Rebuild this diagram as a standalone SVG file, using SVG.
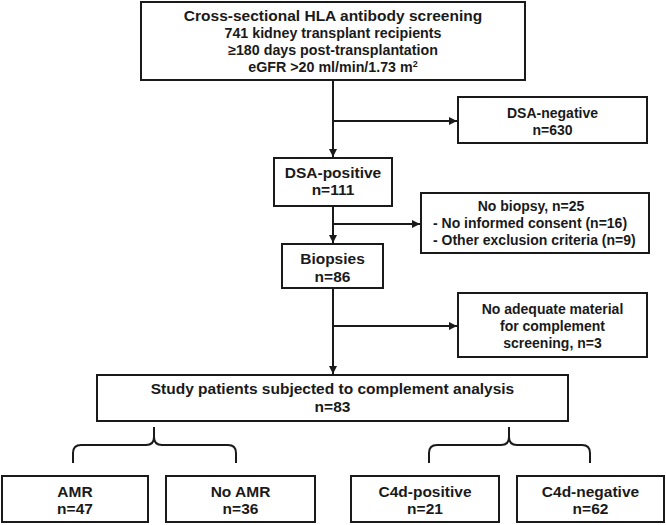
<svg xmlns="http://www.w3.org/2000/svg" width="666" height="525" viewBox="0 0 666 525">
<defs>
<style>
.box{fill:#fff;stroke:#1a1a1a;stroke-width:2}
.ln{fill:none;stroke:#1a1a1a;stroke-width:2}
text{font-family:"Liberation Sans",Arial,sans-serif;font-weight:bold;font-size:15.5px;fill:#1a1a1a;text-anchor:middle}
.t2{font-size:14.25px}
.sd{font-size:14px}
.st{text-anchor:start}
</style>
<marker id="ah" viewBox="0 0 10 10" refX="10" refY="5" markerWidth="8" markerHeight="8" markerUnits="userSpaceOnUse" orient="auto">
<path d="M0,0 L10,5 L0,10 z" fill="#1a1a1a"/>
</marker>
</defs>
<rect width="666" height="525" fill="#fff"/>
<g id="connectors">
<path class="ln" d="M333,80 V157" marker-end="url(#ah)"/>
<path class="ln" d="M333,121 H457" marker-end="url(#ah)"/>
<path class="ln" d="M333,206 V243" marker-end="url(#ah)"/>
<path class="ln" d="M333,224 H420" marker-end="url(#ah)"/>
<path class="ln" d="M333,288 V374" marker-end="url(#ah)"/>
<path class="ln" d="M333,326 H457" marker-end="url(#ah)"/>
<path class="ln" d="M73,463 V453 Q73,445 81,445 H146 Q154,445 154,437 V427 M154,437 Q154,445 162,445 H228 Q236,445 236,453 V463"/>
<path class="ln" d="M429,463 V453 Q429,445 437,445 H501 Q509,445 509,437 V427 M509,437 Q509,445 517,445 H582 Q590,445 590,453 V463"/>
</g>
<g id="screening">
<rect class="box" x="141" y="2" width="384" height="78"/>
<text x="333" y="21">Cross-sectional HLA antibody screening</text>
<text class="t2" x="333" y="38">741 kidney transplant recipients</text>
<text class="t2" x="333" y="55">≥180 days post-transplantation</text>
<text class="t2" x="333" y="72">eGFR &gt;20 ml/min/1.73 m<tspan font-size="9" dy="-5">2</tspan></text>
</g>
<g id="dsa-negative">
<rect class="box" x="458" y="97" width="189" height="46"/>
<text class="sd" x="552.5" y="118">DSA-negative</text>
<text class="sd" x="552.5" y="135">n=630</text>
</g>
<g id="dsa-positive">
<rect class="box" x="274" y="158" width="118" height="48"/>
<text x="333" y="178">DSA-positive</text>
<text x="333" y="195">n=111</text>
</g>
<g id="no-biopsy">
<rect class="box" x="421" y="193" width="228" height="60"/>
<text class="sd" x="531" y="211">No biopsy, n=25</text>
<text class="sd st" x="433" y="228">- No informed consent (n=16)</text>
<text class="sd st" x="433" y="245">- Other exclusion criteria (n=9)</text>
</g>
<g id="biopsies">
<rect class="box" x="282" y="244" width="101" height="44"/>
<text x="332.5" y="264">Biopsies</text>
<text x="332.5" y="282">n=86</text>
</g>
<g id="no-material">
<rect class="box" x="458" y="293" width="189" height="64"/>
<text class="sd" x="552.5" y="314">No adequate material</text>
<text class="sd" x="552.5" y="331">for complement</text>
<text class="sd" x="552.5" y="348">screening, n=3</text>
</g>
<g id="study">
<rect class="box" x="97" y="375" width="471" height="46"/>
<text x="332.5" y="394">Study patients subjected to complement analysis</text>
<text x="332.5" y="412">n=83</text>
</g>
<g id="amr">
<rect class="box" x="2" y="476" width="146" height="46"/>
<text x="75" y="497">AMR</text>
<text x="75" y="514">n=47</text>
</g>
<g id="no-amr">
<rect class="box" x="166" y="476" width="149" height="46"/>
<text x="240.5" y="497">No AMR</text>
<text x="240.5" y="514">n=36</text>
</g>
<g id="c4d-positive">
<rect class="box" x="351" y="476" width="148" height="46"/>
<text x="425" y="497">C4d-positive</text>
<text x="425" y="514">n=21</text>
</g>
<g id="c4d-negative">
<rect class="box" x="517" y="476" width="147" height="46"/>
<text x="590.5" y="497">C4d-negative</text>
<text x="590.5" y="514">n=62</text>
</g>
</svg>
